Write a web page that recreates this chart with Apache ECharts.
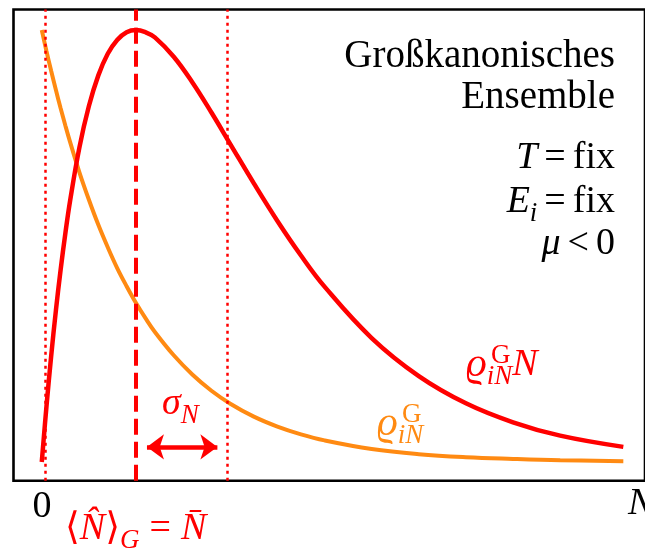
<!DOCTYPE html>
<html><head><meta charset="utf-8">
<script src="https://cdn.jsdelivr.net/npm/echarts@6/dist/echarts.min.js"></script>
<style>html,body{margin:0;padding:0;background:#fff}#c{width:645px;height:548px}</style>
</head><body><div id="c"></div>
<script>
// particle number N (in units of the mean N-bar)
const nValues = [0,0.05,0.1,0.15,0.2,0.25,0.3,0.4,0.5,0.6,0.7,0.8,0.9,1.0,1.1,1.2,1.4,1.6,1.8,2.0,2.25,2.5,2.75,3.0,3.5,4.0,4.5,5.0,5.5,6.17];
// rho_iN^G * N  (red)
const rhoN = [0,0.129,0.246,0.351,0.445,0.529,0.604,0.729,0.824,0.895,0.945,0.977,0.995,1.000,0.995,0.983,0.938,0.878,0.809,0.736,0.645,0.558,0.478,0.406,0.287,0.199,0.136,0.092,0.061,0.035];
// rho_iN^G  (orange)
const rho = [1,0.951,0.905,0.861,0.819,0.779,0.741,0.670,0.607,0.549,0.497,0.449,0.407,0.368,0.333,0.301,0.247,0.202,0.165,0.135,0.105,0.082,0.064,0.050,0.030,0.018,0.011,0.007,0.004,0.002];
const meanN = 1.0;
const sigmaLines = [0.04, 1.97];
const arrowX = [1.116, 1.863];
const arrowY = 0.035;

const FF = "'Liberation Serif','DejaVu Serif',serif";
const RED = '#ff0000', ORANGE = '#ff8a12', BLACK = '#000';
const K = 0.3375;
const mid = (b, fs) => b - K * fs;
const FS = 38, TFS = 39, SFS = 27, SUBPAD = 23;

function tok(color, italic, fs, extra) {
  return Object.assign({fill: color, fontFamily: FF, fontSize: fs, fontStyle: italic ? 'italic' : 'normal'}, extra || {});
}
function richSet(color, eqPad) {
  const p = eqPad == null ? 7 : eqPad;
  return {
    i: tok(color, true, FS),
    n: tok(color, false, FS),
    r: tok(color, true, 41),
    eq: tok(color, false, FS, {padding: [0, p, 0, p]}),
    s: tok(color, true, SFS, {padding: [SUBPAD, 0, 0, 0]})
  };
}
function rtext(x, b, text, color, align, eqPad) {
  return {type: 'text', x: x, y: mid(b, FS), z: 100,
    style: {text: text, align: align || 'left', verticalAlign: 'middle', rich: richSet(color, eqPad),
      fill: color, fontFamily: FF, fontSize: FS}};
}
function ptext(x, b, text, color, fs, italic, align) {
  return {type: 'text', x: x, y: mid(b, fs), z: 100,
    style: {text: text, align: align || 'left', verticalAlign: 'middle', fill: color,
      fontFamily: FF, fontSize: fs, fontStyle: italic ? 'italic' : 'normal'}};
}

const chart = echarts.init(document.getElementById('c'), null, {renderer: 'canvas'});
chart.setOption({
  animation: false,
  backgroundColor: '#fff',
  grid: {left: 13.5, top: 9.5, width: 636.5, height: 471.2, show: true, borderColor: '#000', borderWidth: 2.6, backgroundColor: 'transparent'},
  xAxis: {type: 'value', min: -0.3, max: 6.4, show: false},
  yAxis: {type: 'value', min: -0.0433, max: 1.0475, show: false},
  series: [
    {type: 'line', data: [], silent: true,
      markLine: {silent: true, symbol: 'none', label: {show: false}, animation: false,
        data: [
          {xAxis: sigmaLines[0], lineStyle: {color: RED, width: 2.5, type: [3, 4]}},
          {xAxis: sigmaLines[1], lineStyle: {color: RED, width: 2.5, type: [3, 4]}},
          {xAxis: meanN, lineStyle: {color: RED, width: 4, type: [16, 7]}}
        ]}},
    {type: 'line', data: [], silent: true,
      markLine: {silent: true, symbol: ['arrow', 'arrow'], symbolSize: [19, 17], label: {show: false}, animation: false,
        lineStyle: {color: RED, width: 4.5, type: 'solid'},
        data: [[{coord: [arrowX[0], arrowY]}, {coord: [arrowX[1], arrowY]}]]}},
    {type: 'line', data: nValues.map((n, i) => [n, rho[i]]), smooth: 0.4, showSymbol: false,
      lineStyle: {color: ORANGE, width: 4}, itemStyle: {color: ORANGE}},
    {type: 'line', data: nValues.map((n, i) => [n, rhoN[i]]), smooth: 0.4, showSymbol: false,
      lineStyle: {color: RED, width: 4.5}, itemStyle: {color: RED}}
  ],
  graphic: [
    ptext(615, 70, 'Großkanonisches', BLACK, TFS, false, 'right'),
    ptext(615, 111, 'Ensemble', BLACK, TFS, false, 'right'),
    rtext(615, 171, '{i|T}{eq|=}{n|fix}', BLACK, 'right'),
    rtext(615, 215, '{i|E}{s|i}{eq|=}{n|fix}', BLACK, 'right'),
    rtext(615, 257, '{i|μ}{eq|<}{n|0}', BLACK, 'right'),
    // red label rho N
    rtext(466, 378, '{r|ϱ}{s|iN}{i|N}', RED),
    ptext(491, 365, 'G', RED, SFS, false),
    // orange label rho
    rtext(377, 437, '{r|ϱ}{s|iN}', ORANGE),
    ptext(402, 424, 'G', ORANGE, SFS, false),
    // sigma
    rtext(162, 417, '{i|σ}{s|N}', RED),
    // axis labels
    ptext(42, 520, '0', BLACK, FS, false, 'center'),
    ptext(628, 517, 'N', BLACK, FS, true),
    rtext(65, 542, '{n|⟨}{i|N̂}{n|⟩}{s|G}{eq|=}{i|N̄}', RED, 'left', 10)
  ]
});
</script></body></html>
